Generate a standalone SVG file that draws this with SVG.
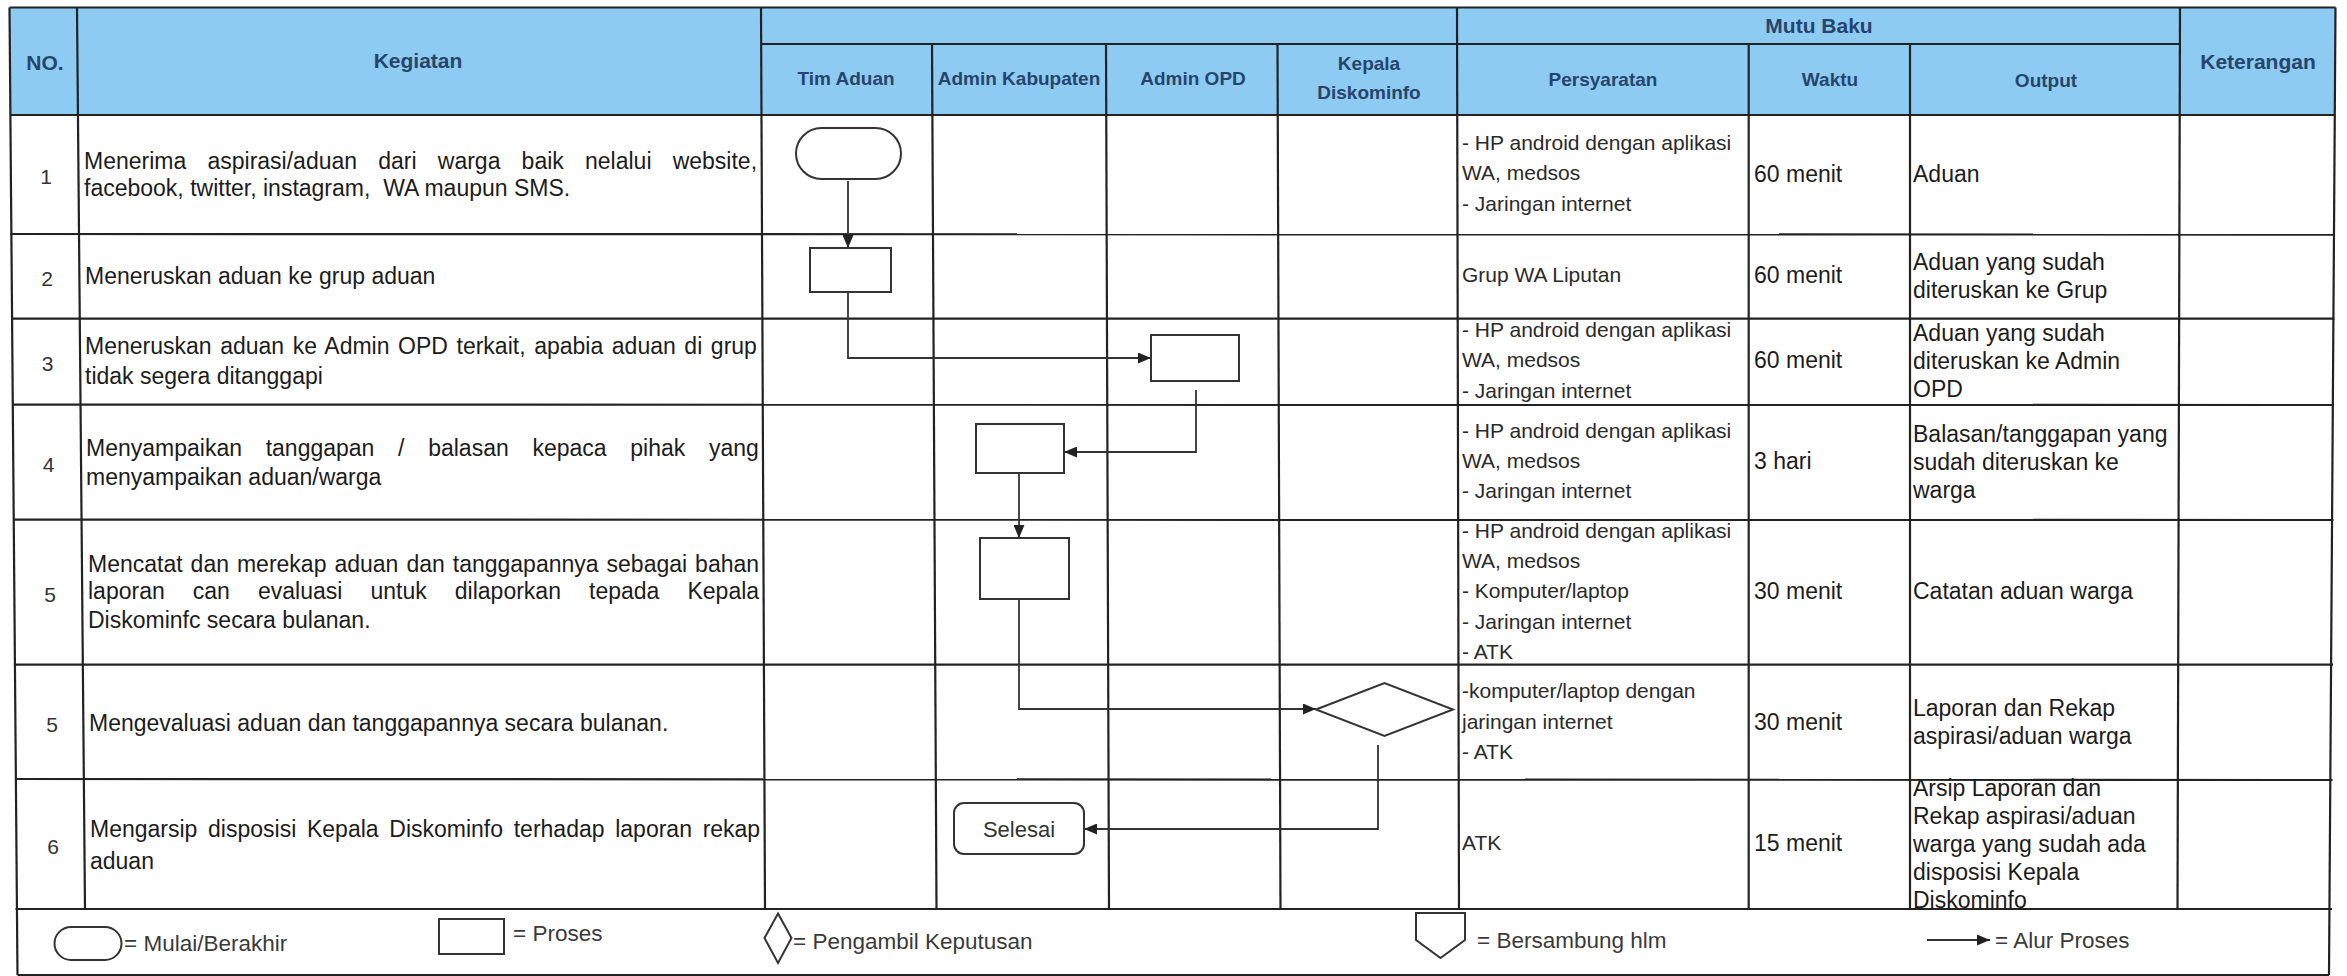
<svg xmlns="http://www.w3.org/2000/svg" width="2347" height="976" viewBox="0 0 2347 976">
<style>
.grid{stroke:#222;stroke-width:2.2;fill:none}
.hd{font-family:"Liberation Sans",Arial,sans-serif;font-weight:bold;fill:#27456b;text-anchor:middle}
.h21{font-size:21px}
.h19{font-size:19px}
.tx{font-family:"Liberation Sans",Arial,sans-serif;font-size:23px;fill:#1c1c1c}
.ps{font-family:"Liberation Sans",Arial,sans-serif;font-size:21px;fill:#2a2a2a}
.num{font-family:"Liberation Sans",Arial,sans-serif;font-size:21px;fill:#333;text-anchor:middle}
.lg{font-family:"Liberation Sans",Arial,sans-serif;font-size:22.5px;fill:#3a3a3a}
.shape{fill:#fff;stroke:#333;stroke-width:2}
.conn{fill:none;stroke:#333;stroke-width:1.8}
</style>
<defs>
<marker id="arr" markerUnits="userSpaceOnUse" markerWidth="13" markerHeight="11" refX="13" refY="5.5" orient="auto">
<path d="M0,0 L13,5.5 L0,11 z" fill="#222"/>
</marker>
</defs>
<rect x="0" y="0" width="2347" height="976" fill="#fff"/>

<g id="table">
<polygon points="9.5,7.5 2335.5,7.5 2335,115 10,115" fill="#8DCBF3"/>
<g class="grid">
<line x1="9.5" y1="7.5" x2="2335.5" y2="7.5"/>
<line x1="761" y1="44" x2="2180" y2="44"/>
<line x1="10" y1="115" x2="2335" y2="115"/>
<line x1="10.5" y1="234" x2="2335" y2="234.6"/>
<line x1="11" y1="318.6" x2="2334.5" y2="318.6"/>
<line x1="12" y1="404.6" x2="2334" y2="405"/>
<line x1="13" y1="519.6" x2="2333.5" y2="520"/>
<line x1="14" y1="664.6" x2="2333" y2="664.6"/>
<line x1="15" y1="779" x2="2332.5" y2="780"/>
<line x1="15.5" y1="909" x2="2332" y2="909"/>
<line x1="17.5" y1="975" x2="2329" y2="975"/>
<line x1="9.5" y1="7.5" x2="17.5" y2="975"/>
<line x1="2335.5" y1="7.5" x2="2329" y2="975"/>
<line x1="77" y1="7.5" x2="85" y2="909"/>
<line x1="761" y1="7.5" x2="765" y2="909"/>
<line x1="932" y1="44" x2="936.5" y2="909"/>
<line x1="1106" y1="44" x2="1109" y2="909"/>
<line x1="1277.5" y1="44" x2="1280.5" y2="909"/>
<line x1="1457" y1="7.5" x2="1459" y2="909"/>
<line x1="1748.7" y1="44" x2="1748.7" y2="909"/>
<line x1="1910" y1="44" x2="1910" y2="909"/>
<line x1="2180" y1="7.5" x2="2177.5" y2="909"/>
</g>
<text class="hd h21" x="45" y="69.5">NO.</text>
<text class="hd h21" x="418" y="67.5">Kegiatan</text>
<text class="hd h19" x="846" y="85">Tim Aduan</text>
<text class="hd h19" x="1019" y="85">Admin Kabupaten</text>
<text class="hd h19" x="1193" y="85">Admin OPD</text>
<text class="hd h19" x="1369" y="70">Kepala</text>
<text class="hd h19" x="1369" y="99">Diskominfo</text>
<text class="hd h21" x="1819" y="32.5">Mutu Baku</text>
<text class="hd h19" x="1603" y="86">Persyaratan</text>
<text class="hd h19" x="1830" y="86">Waktu</text>
<text class="hd h19" x="2046" y="87">Output</text>
<text class="hd h21" x="2258" y="68.5">Keterangan</text>
</g>

<g id="row-numbers">
<text class="num" x="46" y="183.5">1</text>
<text class="num" x="47" y="285.5">2</text>
<text class="num" x="47.5" y="370.5">3</text>
<text class="num" x="48.5" y="471.5">4</text>
<text class="num" x="50" y="601.5">5</text>
<text class="num" x="52" y="731.5">5</text>
<text class="num" x="53" y="853.5">6</text>
</g>

<g id="kegiatan">
<text class="tx" x="84" y="168.5" word-spacing="14.8">Menerima aspirasi/aduan dari warga baik nelalui website,</text>
<text class="tx" x="84" y="196" xml:space="preserve">facebook, twitter, instagram,  WA maupun SMS.</text>
<text class="tx" x="85" y="284">Meneruskan aduan ke grup aduan</text>
<text class="tx" x="85" y="354" word-spacing="2.2">Meneruskan aduan ke Admin OPD terkait, apabia aduan di grup</text>
<text class="tx" x="85" y="384">tidak segera ditanggapi</text>
<text class="tx" x="86" y="456" word-spacing="17.3">Menyampaikan tanggapan / balasan kepaca pihak yang</text>
<text class="tx" x="86" y="485">menyampaikan aduan/warga</text>
<text class="tx" x="88" y="572" word-spacing="1.6">Mencatat dan merekap aduan dan tanggapannya sebagai bahan</text>
<text class="tx" x="88" y="599" word-spacing="21.7">laporan can evaluasi untuk dilaporkan tepada Kepala</text>
<text class="tx" x="88" y="628">Diskominfc secara bulanan.</text>
<text class="tx" x="89" y="731">Mengevaluasi aduan dan tanggapannya secara bulanan.</text>
<text class="tx" x="90" y="837" word-spacing="4.3">Mengarsip disposisi Kepala Diskominfo terhadap laporan rekap</text>
<text class="tx" x="90" y="869">aduan</text>
</g>

<g id="persyaratan">
<text class="ps" x="1462" y="149.5">- HP android dengan aplikasi</text>
<text class="ps" x="1462" y="180">WA, medsos</text>
<text class="ps" x="1462" y="210.5">- Jaringan internet</text>
<text class="ps" x="1462" y="282">Grup WA Liputan</text>
<text class="ps" x="1462" y="337">- HP android dengan aplikasi</text>
<text class="ps" x="1462" y="367">WA, medsos</text>
<text class="ps" x="1462" y="398">- Jaringan internet</text>
<text class="ps" x="1462" y="437.5">- HP android dengan aplikasi</text>
<text class="ps" x="1462" y="467.5">WA, medsos</text>
<text class="ps" x="1462" y="498">- Jaringan internet</text>
<text class="ps" x="1462" y="538">- HP android dengan aplikasi</text>
<text class="ps" x="1462" y="568">WA, medsos</text>
<text class="ps" x="1462" y="598">- Komputer/laptop</text>
<text class="ps" x="1462" y="629">- Jaringan internet</text>
<text class="ps" x="1462" y="659">- ATK</text>
<text class="ps" x="1462" y="698">-komputer/laptop dengan</text>
<text class="ps" x="1462" y="729">jaringan internet</text>
<text class="ps" x="1462" y="759">- ATK</text>
<text class="ps" x="1462" y="850">ATK</text>
</g>

<g id="waktu">
<text class="tx" x="1754" y="182">60 menit</text>
<text class="tx" x="1754" y="283">60 menit</text>
<text class="tx" x="1754" y="368">60 menit</text>
<text class="tx" x="1754" y="468.5">3 hari</text>
<text class="tx" x="1754" y="599">30 menit</text>
<text class="tx" x="1754" y="730">30 menit</text>
<text class="tx" x="1754" y="851">15 menit</text>
</g>

<g id="output">
<text class="tx" x="1913" y="182">Aduan</text>
<text class="tx" x="1913" y="270">Aduan yang sudah</text>
<text class="tx" x="1913" y="298">diteruskan ke Grup</text>
<text class="tx" x="1913" y="341">Aduan yang sudah</text>
<text class="tx" x="1913" y="369">diteruskan ke Admin</text>
<text class="tx" x="1913" y="397">OPD</text>
<text class="tx" x="1913" y="442">Balasan/tanggapan yang</text>
<text class="tx" x="1913" y="470">sudah diteruskan ke</text>
<text class="tx" x="1913" y="498">warga</text>
<text class="tx" x="1913" y="599">Catatan aduan warga</text>
<text class="tx" x="1913" y="716">Laporan dan Rekap</text>
<text class="tx" x="1913" y="744">aspirasi/aduan warga</text>
<text class="tx" x="1913" y="796">Arsip Laporan dan</text>
<text class="tx" x="1913" y="824">Rekap aspirasi/aduan</text>
<text class="tx" x="1913" y="852">warga yang sudah ada</text>
<text class="tx" x="1913" y="880">disposisi Kepala</text>
<text class="tx" x="1913" y="908">Diskominfo</text>
</g>

<g id="connectors">
<path class="conn" d="M848,181 L848,248" marker-end="url(#arr)"/>
<path class="conn" d="M848,292 L848,358 L1151,358" marker-end="url(#arr)"/>
<path class="conn" d="M1196,390 L1196,452 L1064,452" marker-end="url(#arr)"/>
<path class="conn" d="M1019,473 L1019,538" marker-end="url(#arr)"/>
<path class="conn" d="M1019,599 L1019,709 L1316,709" marker-end="url(#arr)"/>
<path class="conn" d="M1378,745 L1378,829 L1084,829" marker-end="url(#arr)"/>
</g>

<g id="node-start"><rect class="shape" x="796" y="128" width="105" height="51" rx="25.5"/></g>
<g id="node-grup"><rect class="shape" x="810" y="248" width="81" height="44"/></g>
<g id="node-admin-opd"><rect class="shape" x="1151" y="335" width="88" height="46"/></g>
<g id="node-balasan"><rect class="shape" x="976" y="424" width="88" height="49"/></g>
<g id="node-rekap"><rect class="shape" x="980" y="538" width="89" height="61"/></g>
<g id="node-evaluasi"><polygon class="shape" points="1316,709.5 1384.5,683 1453,709.5 1384.5,736"/></g>
<g id="node-selesai"><rect class="shape" x="954" y="803" width="130" height="51" rx="10"/>
<text class="lg" x="1019" y="837" text-anchor="middle" style="font-size:22px;fill:#333">Selesai</text></g>

<g id="legend">
<rect class="shape" x="54.5" y="927" width="67" height="33" rx="16.5"/>
<text class="lg" x="124" y="950.5">= Mulai/Berakhir</text>
<rect class="shape" x="439" y="919" width="65" height="35"/>
<text class="lg" x="513" y="940.5">= Proses</text>
<polygon class="shape" points="778,913.5 791.5,938 778,963 764.5,938"/>
<text class="lg" x="793" y="948.5">= Pengambil Keputusan</text>
<polygon class="shape" points="1416,913 1465,913 1465,940 1440.5,958 1416,940"/>
<text class="lg" x="1477" y="947.5">= Bersambung hlm</text>
<path class="conn" d="M1927,940 L1990,940" marker-end="url(#arr)"/>
<text class="lg" x="1995" y="947.5">= Alur Proses</text>
</g>
</svg>
